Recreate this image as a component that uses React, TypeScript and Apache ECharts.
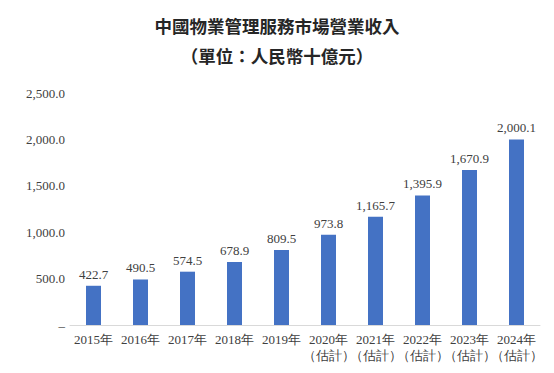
import React, { useEffect, useRef } from "react";
import * as echarts from "echarts";

const categories = ["2015年", "2016年", "2017年", "2018年", "2019年", "2020年\n（估計）", "2021年\n（估計）", "2022年\n（估計）", "2023年\n（估計）", "2024年\n（估計）"];
const values = [422.7, 490.5, 574.5, 678.9, 809.5, 973.8, 1165.7, 1395.9, 1670.9, 2000.1];
const titleLines = ["中國物業管理服務市場營業收入", "（單位：人民幣十億元）"];

const fmt = (v: number) =>
  v.toLocaleString("en-US", { minimumFractionDigits: 1, maximumFractionDigits: 1 });

export default function App() {
  const ref = useRef<HTMLDivElement>(null);
  useEffect(() => {
    const chart = echarts.init(ref.current!, null, { renderer: "svg" });
    chart.setOption({
      animation: false,
      backgroundColor: "#ffffff",
      title: {
        text: titleLines.join("\n"),
        left: "center",
        top: 5,
        textStyle: {
          fontFamily: "Noto Sans CJK TC",
          fontSize: 17.5,
          fontWeight: "bold",
          color: "#262626",
          lineHeight: 30,
        },
      },
      grid: { left: 70, right: 14, top: 93, bottom: 48 },
      xAxis: {
        type: "category",
        data: categories,
        axisLine: { show: true, lineStyle: { color: "#d9d9d9", width: 1 } },
        axisTick: { show: false },
        axisLabel: {
          interval: 0,
          fontFamily: "Liberation Serif",
          fontSize: 13,
          color: "#404040",
          lineHeight: 16,
          margin: 6,
        },
      },
      yAxis: {
        type: "value",
        min: 0,
        max: 2500,
        interval: 500,
        splitLine: { show: false },
        axisLine: { show: false },
        axisTick: { show: false },
        axisLabel: {
          fontFamily: "Liberation Serif",
          fontSize: 13,
          color: "#404040",
          margin: 5,
          formatter: (v: number) => (v === 0 ? "–" : fmt(v)),
        },
      },
      series: [
        {
          type: "bar",
          data: values,
          barWidth: 15,
          itemStyle: { color: "#4472C4" },
          label: {
            show: true,
            position: "top",
            distance: 5,
            fontFamily: "Liberation Serif",
            fontSize: 13,
            color: "#404040",
            formatter: (p: any) => fmt(p.value),
          },
        },
      ],
    });
    return () => chart.dispose();
  }, []);
  return <div ref={ref} style={{ width: 554, height: 373, position: "absolute", left: 0, top: 0 }} />;
}
